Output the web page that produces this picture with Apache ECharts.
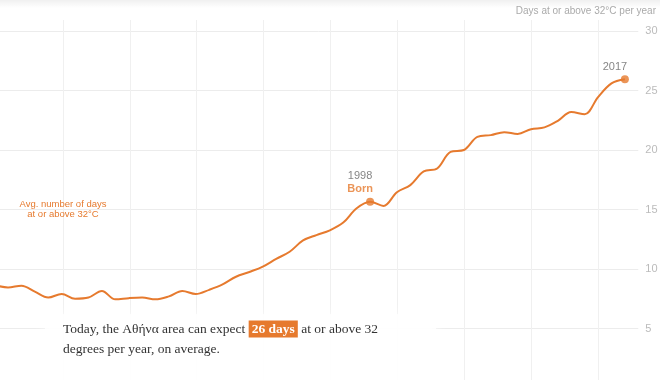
<!DOCTYPE html>
<html>
<head>
<meta charset="utf-8">
<script src="https://cdn.jsdelivr.net/npm/echarts@6/dist/echarts.min.js"></script>
<style>html,body{margin:0;padding:0;background:#fff}#c{width:660px;height:380px}</style>
</head>
<body>
<div id="c"></div>
<script>
const years = [1970,1971,1972,1973,1974,1975,1976,1977,1978,1979,1980,1981,1982,1983,1984,1985,1986,1987,1988,1989,1990,1991,1992,1993,1994,1995,1996,1997,1998,1999,2000,2001,2002,2003,2004,2005,2006,2007,2008,2009,2010,2011,2012,2013,2014,2015,2016,2017];
const days = [8.65,8.45,8.6,8.1,7.6,7.9,7.5,7.6,8.15,7.45,7.55,7.6,7.45,7.7,8.15,7.9,8.25,8.7,9.35,9.75,10.2,10.85,11.45,12.4,12.85,13.25,13.9,15.1,15.65,15.3,16.45,17.05,18.2,18.45,19.85,20.0,21.1,21.25,21.5,21.35,21.75,21.9,22.45,23.2,23.0,24.45,25.6,25.95];
const yTicks = [0,5,10,15,20,25,30];
const bornYear = 1998;
const lastYear = 2017;
const orange = '#e67a2e';

const chart = echarts.init(document.getElementById('c'), null, {renderer:'canvas'});
const lineData = years.map((y,i)=>[y,days[i]]);
const markYears = [bornYear,lastYear];
const dots = markYears.map(y=>[y,days[years.indexOf(y)]]);
const sans = "'Liberation Sans',Arial,sans-serif";
const serif = "'Liberation Serif','DejaVu Serif',Georgia,serif";

chart.setOption({
  animation:false,
  backgroundColor:'#fff',
  grid:[
    {left:-5.4,width:643.7,top:31,height:357,outerBoundsMode:'none',containLabel:false},
    {left:-3.9,width:642,top:20,height:368,outerBoundsMode:'none',containLabel:false}
  ],
  xAxis:[
    {gridIndex:0,type:'value',min:1970,max:2018,show:false},
    {gridIndex:1,type:'value',min:1970,max:2018,interval:5,
     axisLine:{show:false},axisTick:{show:false},axisLabel:{show:false},
     splitLine:{show:true,showMinLine:false,showMaxLine:false,lineStyle:{color:'#f0f0f0',width:1}}}
  ],
  yAxis:[
    {gridIndex:0,type:'value',position:'right',min:yTicks[0],max:yTicks[yTicks.length-1],interval:5,
     axisLine:{show:false},axisTick:{show:false},
     axisLabel:{color:'#bbb',fontSize:11,fontFamily:sans,margin:7,
       formatter:v=> v===0?'':String(v)},
     splitLine:{show:true,lineStyle:{color:'#ececec',width:1}}},
    {gridIndex:1,type:'value',min:0,max:1,show:false,splitLine:{show:false}}
  ],
  series:[
    {type:'line',xAxisIndex:0,yAxisIndex:0,data:lineData,smooth:0.35,showSymbol:false,
     lineStyle:{color:orange,width:2},z:3},
    {type:'scatter',xAxisIndex:0,yAxisIndex:0,data:dots,symbolSize:8,
     itemStyle:{color:orange},z:4,
     label:{show:true,position:'top',distance:2,offset:[-10,0],
       formatter:p=> p.data[0]===bornYear ? '{y|'+bornYear+'}\n{b|Born}' : '{y|'+p.data[0]+'}',
       rich:{
         y:{color:'#666',fontSize:11,fontFamily:sans,lineHeight:13,align:'center'},
         b:{color:orange,fontSize:11,fontWeight:'bold',fontFamily:sans,lineHeight:13,align:'center'}
       }}}
  ],
  graphic:[
    {type:'rect',z:0,silent:true,shape:{x:0,y:0,width:660,height:8},
     style:{fill:new echarts.graphic.LinearGradient(0,0,0,1,[{offset:0,color:'rgba(0,0,0,0.06)'},{offset:1,color:'rgba(0,0,0,0)'}])}},
    {type:'text',right:4,top:6,z:10,
     style:{text:'Days at or above 32°C per year',fill:'#aaa',font:'10px '+sans}},
    {type:'text',x:63,y:199,z:10,
     style:{text:'Avg. number of days\nat or above 32°C',fill:orange,font:'9.5px '+sans,align:'center',lineHeight:10}},
    {type:'rect',z:20,silent:true,shape:{x:45,y:314,width:391,height:80},
     style:{fill:'rgba(255,255,255,0.8)',shadowBlur:10,shadowColor:'rgba(255,255,255,0.9)'}},
    {type:'text',x:63,y:319,z:30,
     style:{text:'Today, the Αθήνα area can expect {hl|26 days} at or above 32\ndegrees per year, on average.',
       fill:'#333',font:'13.5px '+serif,lineHeight:20,
       rich:{hl:{backgroundColor:orange,fill:'#fff',color:'#fff',fontWeight:'bold',fontSize:13.5,fontFamily:serif,padding:[2,3,1,3]}}}}
  ]
});
</script>
</body>
</html>
